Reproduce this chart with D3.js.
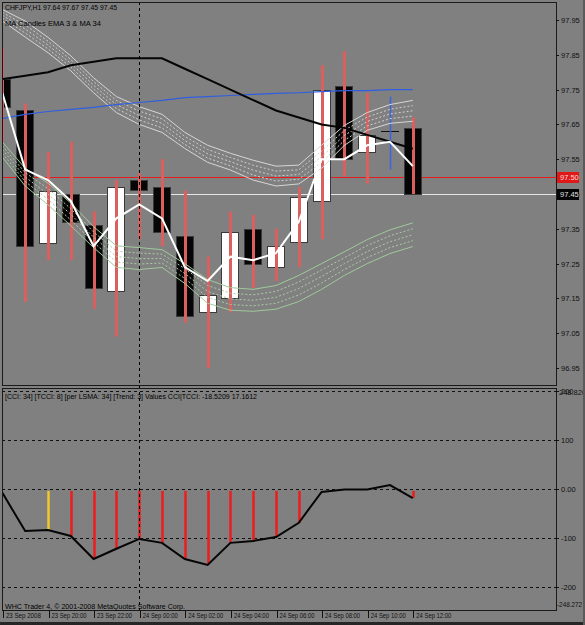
<!DOCTYPE html>
<html>
<head>
<meta charset="utf-8">
<script src="https://cdn.jsdelivr.net/npm/d3@7"></script>
<style>
  html, body { margin: 0; padding: 0; background: #808080; }
  svg { display: block; font-family: "Liberation Sans", Arial, sans-serif; }
</style>
</head>
<body>
<div id="chart"></div>
<script>
// CHFJPY H1 bars, 23 Sep 18:00 .. 24 Sep 12:00
const barTimes = ['23 Sep 18:00', '23 Sep 19:00', '23 Sep 20:00', '23 Sep 21:00', '23 Sep 22:00', '23 Sep 23:00',
  '24 Sep 00:00', '24 Sep 01:00', '24 Sep 02:00', '24 Sep 03:00', '24 Sep 04:00', '24 Sep 05:00', '24 Sep 06:00',
  '24 Sep 07:00', '24 Sep 08:00', '24 Sep 09:00', '24 Sep 10:00', '24 Sep 11:00', '24 Sep 12:00']
const open  = [97.78, 97.69, 97.31, 97.45, 97.36, 97.17, 97.49, 97.47, 97.33, 97.11, 97.15, 97.35, 97.24, 97.31, 97.43, 97.76, 97.57, 97.63, 97.64]
const high  = [97.87, 97.71, 97.57, 97.60, 97.40, 97.49, 97.51, 97.55, 97.46, 97.27, 97.40, 97.39, 97.35, 97.47, 97.82, 97.86, 97.74, 97.73, 97.67]
const low   = [97.60, 97.14, 97.26, 97.26, 97.12, 97.04, 97.32, 97.30, 97.08, 96.95, 97.11, 97.18, 97.20, 97.24, 97.32, 97.50, 97.48, 97.52, 97.45]
const close = [97.70, 97.30, 97.46, 97.37, 97.18, 97.47, 97.46, 97.34, 97.10, 97.16, 97.34, 97.25, 97.30, 97.44, 97.75, 97.55, 97.62, 97.63, 97.45]

// moving averages
const ema3  = [97.74, 97.52, 97.49, 97.43, 97.30, 97.38, 97.42, 97.38, 97.24, 97.20, 97.27, 97.26, 97.28, 97.37, 97.55, 97.55, 97.59, 97.60, 97.53]
const ma34  = [97.78, 97.79, 97.80, 97.82, 97.83, 97.84, 97.84, 97.84, 97.81, 97.78, 97.75, 97.72, 97.69, 97.67, 97.65, 97.64, 97.62, 97.60, 97.58]
const maLong = [97.667, 97.679, 97.687, 97.693, 97.699, 97.707, 97.713, 97.719, 97.727, 97.730, 97.733, 97.736, 97.739, 97.741, 97.744, 97.747, 97.747, 97.750, 97.750]

// ribbons (upper edge / lower edge)
const ribbonHiTop = [97.98, 97.947, 97.90, 97.847, 97.784, 97.73, 97.701, 97.679, 97.627, 97.59, 97.567, 97.547, 97.53, 97.533, 97.59, 97.647, 97.684, 97.707, 97.719]
const ribbonHiBot = [97.947, 97.901, 97.856, 97.804, 97.741, 97.684, 97.65, 97.627, 97.581, 97.541, 97.519, 97.49, 97.473, 97.479, 97.524, 97.59, 97.633, 97.653, 97.659]
const ribbonLoTop = [97.599, 97.524, 97.481, 97.424, 97.356, 97.301, 97.296, 97.29, 97.25, 97.204, 97.181, 97.176, 97.187, 97.216, 97.25, 97.284, 97.319, 97.347, 97.367]
const ribbonLoBot = [97.556, 97.473, 97.419, 97.359, 97.296, 97.239, 97.233, 97.239, 97.193, 97.136, 97.116, 97.113, 97.119, 97.141, 97.176, 97.216, 97.25, 97.279, 97.299]

// CCI sub window
const cci = [-8, -86, -84, -96, -143, -122, -102, -110, -143, -155, -110, -106, -98, -69, -6, -1, -1, 8, -18.52]
const cciHist = [null, null, -84, -96, -143, -122, -102, -110, -143, -155, -110, -106, -98, -69, null, null, null, null, -18.52]
const cciHistSignal = [0, 0, 1, 2, 2, 2, 2, 2, 2, 2, 2, 2, 2, 2, 0, 0, 0, 0, 2]

const priceTicks = [96.95, 97.05, 97.15, 97.25, 97.35, 97.45, 97.55, 97.65, 97.75, 97.85, 97.95]
const cciTicks = [200, 100, 0, -100, -200]
const timeTickBars = [0, 2, 4, 6, 8, 10, 12, 14, 16, 18]
const timeTickLabels = ['23 Sep 2008', '23 Sep 20:00', '23 Sep 22:00', '24 Sep 00:00', '24 Sep 02:00',
  '24 Sep 04:00', '24 Sep 06:00', '24 Sep 08:00', '24 Sep 10:00', '24 Sep 12:00']
const bidPrice = 97.45, askPrice = 97.50

let w = 585, h = 625,
  plotL = 2, plotR = 556,
  mainT = 2, mainB = 385,
  subT = 388, subB = 610

let svg = d3.select('#chart')
  .append('svg')
  .attr('width', w)
  .attr('height', h)

svg.append('rect').attr('width', w).attr('height', h).attr('fill', '#808080')

// scales
let x = d3.scaleLinear().domain([0, 18]).range([2.4, 412.8])
let y = d3.scaleLinear().domain([96.95, 97.95]).range([368, 20])
let yc = d3.scaleLinear().domain([-247, 208]).range([subB, 387])

let clip = svg.append('clipPath').attr('id', 'mainclip')
clip.append('rect').attr('x', plotL + 1).attr('y', mainT + 1).attr('width', plotR - plotL - 1).attr('height', mainB - mainT - 1)
let clip2 = svg.append('clipPath').attr('id', 'subclip')
clip2.append('rect').attr('x', plotL + 1).attr('y', subT + 1).attr('width', plotR - plotL - 1).attr('height', subB - subT - 1)

let main = svg.append('g').attr('clip-path', 'url(#mainclip)')
let sub = svg.append('g').attr('clip-path', 'url(#subclip)')

// day separator
svg.append('line')
  .attr('x1', x(6) + 0.5).attr('x2', x(6) + 0.5)
  .attr('y1', mainT).attr('y2', subB)
  .attr('stroke', '#000').attr('stroke-dasharray', '3,3')
  .attr('shape-rendering', 'crispEdges')

// ask / bid lines
main.append('line')
  .attr('x1', plotL).attr('x2', plotR)
  .attr('y1', Math.round(y(askPrice)) + 0.5).attr('y2', Math.round(y(askPrice)) + 0.5)
  .attr('stroke', '#e61c1c')
main.append('line')
  .attr('x1', plotL).attr('x2', plotR)
  .attr('y1', Math.round(y(bidPrice)) + 0.5).attr('y2', Math.round(y(bidPrice)) + 0.5)
  .attr('stroke', '#e6e6e6')

// candles
let bars = d3.range(open.length)
let candle = main.append('g').selectAll('g')
  .data(bars)
  .enter()
  .append('g')

candle.append('rect')
  .attr('x', i => Math.round(x(i)) - 8.5)
  .attr('y', i => Math.round(y(Math.max(open[i], close[i]))) + 0.5)
  .attr('width', 17)
  .attr('height', i => Math.max(0.01, Math.round(y(Math.min(open[i], close[i])) - y(Math.max(open[i], close[i])))))
  .attr('fill', i => close[i] > open[i] ? '#ffffff' : '#060606')
  .attr('stroke', i => close[i] === open[i] ? '#111' : '#3a3a3a')

candle.append('line')
  .attr('x1', i => Math.round(x(i)) + 0.5)
  .attr('x2', i => Math.round(x(i)) + 0.5)
  .attr('y1', i => y(high[i]))
  .attr('y2', i => y(low[i]))
  .attr('stroke', i => close[i] === open[i] ? '#3a64e6' : '#d9605f')
  .attr('stroke-width', i => close[i] === open[i] ? 1.5 : 3)

// ribbons
function ribbon(top, bot, solid, dotted) {
  let g = main.append('g').attr('fill', 'none')
  ;[0, 0.25, 0.5, 0.75, 1].forEach(f => {
    let line = d3.line()
      .x(i => x(i))
      .y(i => y(top[i] + (bot[i] - top[i]) * f))
    g.append('path')
      .attr('d', line(bars))
      .attr('stroke', (f === 0 || f === 1) ? solid : dotted)
      .attr('stroke-dasharray', (f === 0 || f === 1) ? null : '2,2')
      .attr('stroke-width', 1)
  })
}
ribbon(ribbonHiTop, ribbonHiBot, '#d6d6d6', '#cfcfcf')
ribbon(ribbonLoTop, ribbonLoBot, '#9fca9a', '#a9cca5')

let priceLine = arr => d3.line().x(i => x(i)).y(i => y(arr[i]))(bars)

main.append('path').attr('d', priceLine(maLong))
  .attr('fill', 'none').attr('stroke', '#2f5ee0').attr('stroke-width', 1.2)
main.append('path').attr('d', priceLine(ma34))
  .attr('fill', 'none').attr('stroke', '#050505').attr('stroke-width', 2)
main.append('path').attr('d', priceLine(ema3))
  .attr('fill', 'none').attr('stroke', '#ffffff').attr('stroke-width', 2)

// CCI window
sub.selectAll('.lvl')
  .data(cciTicks)
  .enter()
  .append('line')
  .attr('class', 'lvl')
  .attr('x1', plotL).attr('x2', plotR)
  .attr('y1', d => Math.round(yc(d)) + 0.5).attr('y2', d => Math.round(yc(d)) + 0.5)
  .attr('stroke', '#111').attr('stroke-dasharray', '3,3')
  .attr('shape-rendering', 'crispEdges')

sub.selectAll('.hist')
  .data(bars.filter(i => cciHist[i] !== null))
  .enter()
  .append('line')
  .attr('class', 'hist')
  .attr('x1', i => Math.round(x(i)) + 0.5)
  .attr('x2', i => Math.round(x(i)) + 0.5)
  .attr('y1', yc(0) + 2)
  .attr('y2', i => yc(cciHist[i]))
  .attr('stroke', i => cciHistSignal[i] === 1 ? '#f0c828' : '#ee1c1c')
  .attr('stroke-width', 2.5)

sub.append('path')
  .attr('d', d3.line().x(i => x(i)).y(i => yc(cci[i]))(bars))
  .attr('fill', 'none').attr('stroke', '#050505').attr('stroke-width', 2)

// frames
let frame = svg.append('g').attr('fill', 'none').attr('stroke', '#1a1a1a').attr('shape-rendering', 'crispEdges')
frame.append('rect').attr('x', plotL).attr('y', mainT).attr('width', plotR - plotL).attr('height', mainB - mainT)
frame.append('rect').attr('x', plotL).attr('y', subT).attr('width', plotR - plotL).attr('height', subB - subT)

// axes
function styleAxis(g) {
  g.select('.domain').remove()
  g.selectAll('line').attr('stroke', '#111').attr('shape-rendering', 'crispEdges')
  g.selectAll('text').attr('fill', '#111').attr('font-size', 7.5)
    .attr('font-family', '"Liberation Sans", Arial, sans-serif')
  g.attr('font-size', null).attr('font-family', null)
}

svg.append('g')
  .attr('transform', `translate(${plotR},0)`)
  .call(d3.axisRight(y).tickValues(priceTicks).tickSize(3).tickPadding(2).tickFormat(d3.format('.2f')))
  .call(styleAxis)

svg.append('g')
  .attr('transform', `translate(${plotR},0)`)
  .call(d3.axisRight(yc).tickValues(cciTicks).tickSize(3).tickPadding(2).tickFormat(d => d === 0 ? '0.00' : d))
  .call(styleAxis)

let tAxis = svg.append('g')
  .attr('transform', `translate(0,${subB})`)
  .call(d3.axisBottom(x).tickValues(timeTickBars).tickSize(8).tickFormat((d, i) => timeTickLabels[i]))
  .call(styleAxis)
tAxis.selectAll('.tick line').attr('transform', 'translate(0.5,0)')
tAxis.selectAll('text').attr('text-anchor', 'start').attr('x', 3).attr('y', 3).attr('dy', '0.71em')
  .attr('font-size', 7.5).attr('textLength', 35).attr('lengthAdjust', 'spacingAndGlyphs')

// window scale max / min of CCI
svg.append('text').attr('x', plotR + 3).attr('y', 395).attr('font-size', 7.5).attr('fill', '#111').text('248.8209')
svg.append('text').attr('x', plotR + 1).attr('y', 607).attr('font-size', 7.5).attr('fill', '#111')
  .attr('textLength', 25).attr('lengthAdjust', 'spacingAndGlyphs').text('-248.272')

// ask / bid price tags
let tags = [[askPrice, '#e01818', '#ffd8d8'], [bidPrice, '#050505', '#e0e0e0']]
tags.forEach(([p, bg, fg]) => {
  let yy = Math.round(y(p))
  svg.append('rect').attr('x', plotR + 1).attr('y', yy - 5).attr('width', 22).attr('height', 11).attr('fill', bg)
  svg.append('text').attr('x', plotR + 4).attr('y', yy + 3).attr('font-size', 7.5).attr('fill', fg).text(d3.format('.2f')(p))
})

// texts
svg.append('text').attr('x', 5).attr('y', 10).attr('font-size', 7.5).attr('fill', '#000')
  .attr('textLength', 112).attr('lengthAdjust', 'spacingAndGlyphs')
  .text(`CHFJPY,H1  ${open[18].toFixed(2)} ${high[18].toFixed(2)} ${low[18].toFixed(2)} ${close[18].toFixed(2)}`)
svg.append('text').attr('x', 5).attr('y', 26).attr('font-size', 7.5).attr('fill', '#000')
  .attr('textLength', 96).attr('lengthAdjust', 'spacingAndGlyphs')
  .text('MA Candles  EMA 3  &  MA 34')
svg.append('text').attr('x', 5).attr('y', 399).attr('font-size', 7.5).attr('fill', '#000')
  .attr('textLength', 252).attr('lengthAdjust', 'spacingAndGlyphs')
  .text('[CCI: 34] [TCCI: 8] [per LSMA: 34] [Trend: 3] Values CCI|TCCI: -18.5209 17.1612')
svg.append('text').attr('x', 5).attr('y', 609).attr('font-size', 7.5).attr('fill', '#000')
  .attr('textLength', 180).attr('lengthAdjust', 'spacingAndGlyphs')
  .text('WHC Trader 4, © 2001-2008 MetaQuotes Software Corp.')

// window edges
svg.append('rect').attr('x', 0).attr('y', 622).attr('width', w).attr('height', 3).attr('fill', '#262626')
svg.append('rect').attr('x', 583).attr('y', 0).attr('width', 2).attr('height', h).attr('fill', '#5a5a5a')
</script>
</body>
</html>
